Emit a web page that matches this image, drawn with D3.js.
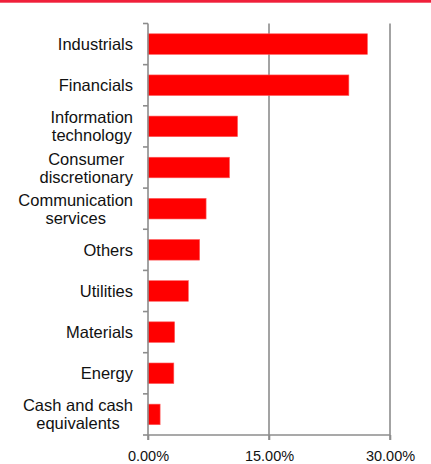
<!DOCTYPE html>
<html>
<head>
<meta charset="utf-8">
<script src="https://cdn.jsdelivr.net/npm/d3@7/dist/d3.min.js"></script>
<style>
  body { margin: 0; background: #fff; }
  svg { display: block; font-family: "Liberation Sans", Arial, sans-serif; }
</style>
</head>
<body>
<svg id="chart" width="431" height="464"></svg>
<script>
// sector weights, % of fund
const sectors = [
  ['Industrials'],
  ['Financials'],
  ['Information', 'technology'],
  ['Consumer', 'discretionary'],
  ['Communication', 'services'],
  ['Others'],
  ['Utilities'],
  ['Materials'],
  ['Energy'],
  ['Cash and cash', 'equivalents']
];
const weights = [27.2, 24.9, 11.1, 10.1, 7.2, 6.4, 5.0, 3.3, 3.2, 1.5];
const tickValues = [0, 15, 30];

const svg = d3.select('#chart'),
    margin = {top: 23.5, right: 41, bottom: 29, left: 148},
    width = 431 - margin.left - margin.right,
    height = 464 - margin.top - margin.bottom;

// red strip along the top
svg.append('rect')
  .attr('x', 0).attr('y', 0)
  .attr('width', 431).attr('height', 2.7)
  .attr('fill', '#f0203a');

const g = svg.append('g').attr('transform', `translate(${margin.left},${margin.top})`);

const x = d3.scaleLinear()
  .domain([0, 30])
  .range([0, width]);

const y = d3.scaleBand()
  .domain(d3.range(sectors.length))
  .range([0, height])
  .paddingInner(0.5)
  .paddingOuter(0.25);

const gridColor = '#8c8c8c';

// vertical gridlines (skip 0, that's the axis)
g.selectAll('.grid')
  .data(tickValues.filter(d => d > 0))
  .enter().append('line')
    .attr('x1', d => x(d)).attr('x2', d => x(d))
    .attr('y1', 0).attr('y2', height + 5)
    .attr('stroke', gridColor)
    .attr('stroke-width', 1.6);

// bars
g.selectAll('.bar')
  .data(weights)
  .enter().append('rect')
    .attr('x', x(0))
    .attr('y', (d, i) => y(i))
    .attr('width', d => x(d) - x(0))
    .attr('height', y.bandwidth())
    .attr('fill', '#ff0000')
    .attr('stroke', '#ff5a5a')
    .attr('stroke-width', 0.6);

// y axis line + ticks between categories
const step = height / sectors.length;
g.append('line')
  .attr('x1', 0).attr('x2', 0)
  .attr('y1', 0).attr('y2', height + 5)
  .attr('stroke', gridColor).attr('stroke-width', 1.6);
g.selectAll('.ytick')
  .data(d3.range(sectors.length + 1))
  .enter().append('line')
    .attr('x1', -5).attr('x2', 0)
    .attr('y1', d => d * step).attr('y2', d => d * step)
    .attr('stroke', gridColor).attr('stroke-width', 1.6);

// x axis
const xAxis = g.append('g')
  .attr('transform', `translate(0,${height})`)
  .call(d3.axisBottom(x).tickValues(tickValues).tickSize(5).tickPadding(11)
    .tickFormat(d => d.toFixed(2) + '%'));
xAxis.select('.domain').attr('stroke', gridColor).attr('stroke-width', 1.6)
  .attr('d', `M0,0H${width}`);
xAxis.selectAll('.tick line').attr('stroke', gridColor).attr('stroke-width', 1.6);
xAxis.selectAll('.tick text')
  .attr('fill', '#111')
  .style('font-size', '14.5px')
  .style('font-family', '"Liberation Sans", Arial, sans-serif');

// category labels: block right-aligned, lines centred within block
const lineH = 18;
const labels = g.selectAll('.label')
  .data(sectors)
  .enter().append('text')
    .attr('text-anchor', 'middle')
    .attr('fill', '#111')
    .style('font-size', '16.5px');

labels.each(function (lines, i) {
  const t = d3.select(this);
  const cy = y(i) + y.bandwidth() / 2;
  const y0 = cy - (lines.length - 1) * lineH / 2 + 6;
  lines.forEach((s, k) => {
    t.append('tspan').attr('y', y0 + k * lineH).text(s);
  });
  let w = 0;
  t.selectAll('tspan').each(function () { w = Math.max(w, this.getComputedTextLength()); });
  t.selectAll('tspan').attr('x', -15 - w / 2);
});
</script>
</body>
</html>
